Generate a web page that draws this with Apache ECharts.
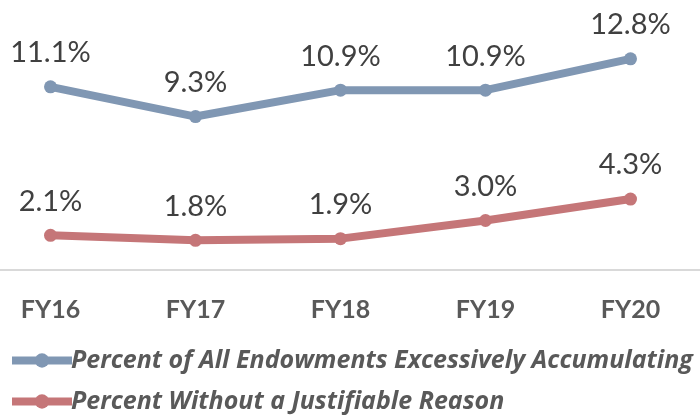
<!DOCTYPE html>
<html>
<head>
<meta charset="utf-8">
<script src="https://cdn.jsdelivr.net/npm/echarts@6/dist/echarts.min.js"></script>
<style>
  html, body { margin: 0; padding: 0; background: #fff; }
  #chart { width: 700px; height: 418px; }
</style>
</head>
<body>
<div id="chart"></div>
<script>
const years = ['FY16', 'FY17', 'FY18', 'FY19', 'FY20'];
const allEndowments = [11.1, 9.3, 10.9, 10.9, 12.8];
const withoutReason = [2.1, 1.8, 1.9, 3.0, 4.3];
const seriesNames = ['Percent of All Endowments Excessively Accumulating', 'Percent Without a Justifiable Reason'];

const blue = '#8097B3';
const red = '#C57678';

function lineSeries(name, data, color) {
  return {
    name: name,
    type: 'line',
    data: data,
    symbol: 'circle',
    symbolSize: 13,
    lineStyle: { color: color, width: 8 },
    itemStyle: { color: color },
    label: {
      show: true,
      position: 'top',
      distance: 13,
      formatter: p => p.value.toFixed(1) + '%',
      color: '#404040',
      fontSize: 29,
      fontFamily: 'Lato'
    }
  };
}

function legendRow(name, top) {
  return {
    orient: 'horizontal',
    left: 8,
    top: top,
    padding: 0,
    itemWidth: 60,
    itemHeight: 18,
    lineStyle: { width: 8 },
    textStyle: {
      color: '#595959',
      fontSize: 25,
      fontWeight: 'bold',
      fontStyle: 'italic',
      fontFamily: 'Open Sans',
      padding: [0, 0, 0, -6]
    },
    data: [name]
  };
}

const chart = echarts.init(document.getElementById('chart'));
chart.setOption({
  animation: false,
  grid: { left: -22, right: -3, top: 6, bottom: 148, outerBoundsMode: 'none', containLabel: false },
  xAxis: {
    type: 'category',
    data: years,
    boundaryGap: true,
    axisLine: { lineStyle: { color: '#D9D9D9', width: 2 } },
    axisTick: { show: false },
    axisLabel: {
      margin: 27,
      color: '#595959',
      fontSize: 25,
      fontWeight: 'bold',
      fontFamily: 'Lato'
    }
  },
  yAxis: {
    type: 'value',
    min: 0,
    max: 16,
    show: false
  },
  legend: [legendRow(seriesNames[0], 348), legendRow(seriesNames[1], 389)],
  series: [
    lineSeries(seriesNames[0], allEndowments, blue),
    lineSeries(seriesNames[1], withoutReason, red)
  ]
});
</script>
</body>
</html>
